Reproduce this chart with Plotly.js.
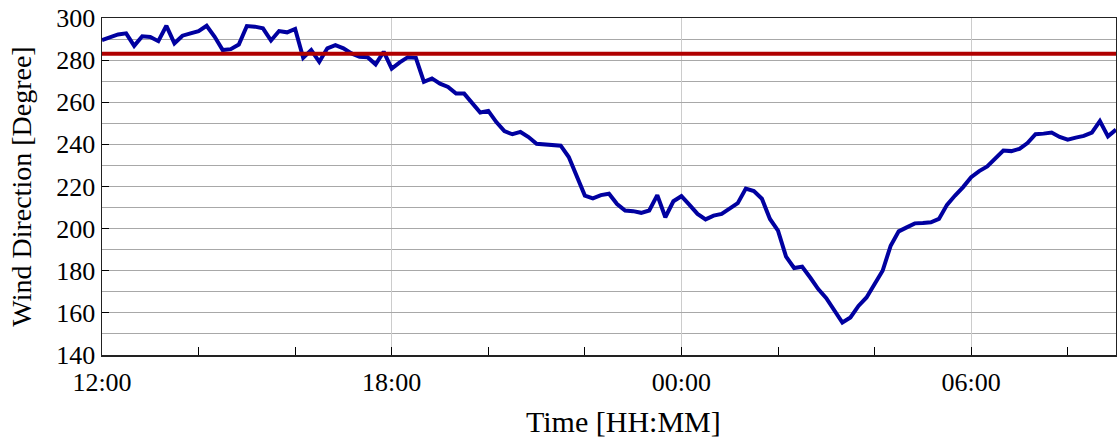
<!DOCTYPE html>
<html>
<head>
<meta charset="utf-8">
<script src="https://cdn.plot.ly/plotly-3.0.1.min.js"></script>
<style>
  html, body { margin: 0; padding: 0; background: #fff; }
  #chart { width: 1117px; height: 441px; }
</style>
</head>
<body>
<div id="chart"></div>
<script>
// ---- Data ----
const startTime = '2020-01-01T12:00:00';
const endTime = '2020-01-02T09:00:00';
const sampleIntervalMinutes = 10;

const windDirection = [
  289.5, 291.1, 292.2, 292.7, 286.8, 291.3, 291.0, 289.0, 296.3, 288.0,
  291.6, 292.7, 293.8, 296.3, 291.1, 284.8, 285.2, 287.4, 296.2, 295.9,
  295.1, 289.3, 293.8, 293.2, 294.8, 281.1, 284.8, 279.2, 285.6, 287.1,
  285.6, 283.2, 281.6, 281.4, 278.0, 284.0, 276.0, 278.9, 281.4, 281.1,
  269.7, 271.3, 268.8, 267.3, 264.1, 264.1, 259.7, 255.1, 255.9, 250.6,
  246.3, 244.8, 245.9, 243.5, 240.3, 240.0, 239.7, 239.4, 234.0, 224.4,
  215.7, 214.4, 215.9, 216.6, 211.7, 208.6, 208.3, 207.5, 208.6, 215.9,
  205.4, 213.0, 215.4, 211.3, 207.0, 204.4, 206.2, 207.0, 209.4, 212.1,
  219.0, 217.8, 214.2, 204.6, 199.0, 186.7, 181.3, 181.9, 176.8, 171.3,
  167.0, 161.0, 155.4, 157.8, 163.3, 167.3, 173.3, 180.0, 191.9, 198.7,
  200.6, 202.5, 202.7, 203.0, 204.6, 211.3, 215.7, 219.7, 224.4, 227.3,
  229.5, 233.2, 237.1, 236.8, 237.9, 240.6, 244.8, 245.1, 245.6, 243.5,
  242.2, 243.2, 244.0, 245.6, 251.1, 243.8, 247.0
];

const thresholdDirection = 283;

const yTickValues = [140, 160, 180, 200, 220, 240, 260, 280, 300];
const xTickValues = ['2020-01-01T12:00:00', '2020-01-01T18:00:00', '2020-01-02T00:00:00', '2020-01-02T06:00:00'];
const xTickLabels = ['12:00', '18:00', '00:00', '06:00'];

const xAxisTitle = 'Time [HH:MM]';
const yAxisTitle = 'Wind Direction [Degree]';

// ---- Build time stamps ----
function pad(n) { return (n < 10 ? '0' : '') + n; }
function fmt(d) {
  return d.getFullYear() + '-' + pad(d.getMonth() + 1) + '-' + pad(d.getDate()) +
    ' ' + pad(d.getHours()) + ':' + pad(d.getMinutes()) + ':00';
}
const t0 = new Date(startTime);
const times = windDirection.map((_, i) => fmt(new Date(t0.getTime() + i * sampleIntervalMinutes * 60000)));

const FONT = '"Liberation Serif", "Times New Roman", Times, serif';

const traces = [
  {
    x: times,
    y: windDirection,
    type: 'scatter',
    mode: 'lines',
    line: { color: '#0000a0', width: 4 },
    hoverinfo: 'x+y',
    showlegend: false
  },
  {
    x: [startTime, endTime],
    y: [thresholdDirection, thresholdDirection],
    type: 'scatter',
    mode: 'lines',
    line: { color: '#b00000', width: 4 },
    showlegend: false
  }
];

const layout = {
  width: 1117,
  height: 441,
  margin: { l: 102, r: 1, t: 18, b: 86 },
  paper_bgcolor: '#fff',
  plot_bgcolor: '#fff',
  font: { family: FONT, size: 26, color: '#000' },
  xaxis: {
    type: 'date',
    range: [startTime, endTime],
    tickvals: xTickValues,
    ticktext: xTickLabels,
    ticks: 'inside',
    ticklen: 8,
    tickcolor: '#000',
    tickwidth: 1,
    ticklabelstandoff: 3,
    showgrid: true,
    gridcolor: '#cccccc',
    gridwidth: 1,
    showline: true,
    linecolor: '#222',
    linewidth: 1.5,
    mirror: true,
    zeroline: false,
    tickfont: { family: FONT, size: 26, color: '#000' },
    minor: {
      dtick: 2 * 3600 * 1000,
      tick0: startTime,
      ticks: 'inside',
      ticklen: 8,
      tickcolor: '#000',
      showgrid: false
    },
    automargin: false
  },
  yaxis: {
    range: [140, 300],
    tickvals: yTickValues,
    ticks: 'inside',
    ticklen: 7,
    tickcolor: '#000',
    showgrid: true,
    gridcolor: '#a8a8a8',
    gridwidth: 1,
    showline: true,
    linecolor: '#222',
    linewidth: 1.5,
    mirror: true,
    zeroline: false,
    tickfont: { family: FONT, size: 26, color: '#000' },
    minor: {
      dtick: 10,
      tick0: 140,
      showgrid: true,
      gridcolor: '#a8a8a8',
      gridwidth: 1,
      ticks: ''
    },
    title: { text: yAxisTitle, font: { family: FONT, size: 28, color: '#000' }, standoff: 16 },
    automargin: false
  },
  annotations: [
    {
      text: xAxisTitle,
      xref: 'paper', yref: 'paper',
      x: 0.514, y: -0.196,
      xanchor: 'center', yanchor: 'middle',
      borderpad: 0,
      showarrow: false,
      font: { family: FONT, size: 30, color: '#000' }
    }
  ]
};

Plotly.newPlot('chart', traces, layout, { displayModeBar: false, staticPlot: true });
</script>
</body>
</html>
